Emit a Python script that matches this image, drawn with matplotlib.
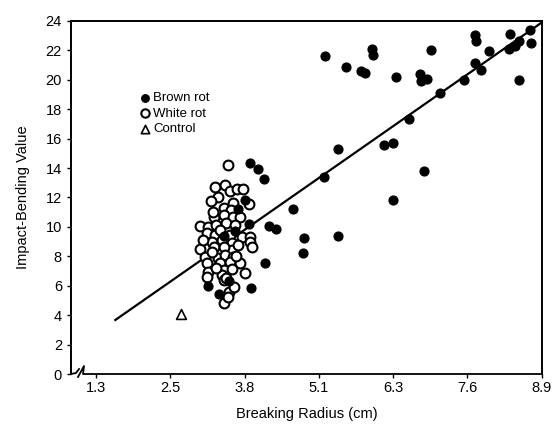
import numpy as np
import matplotlib.pyplot as plt

plt.rcParams['font.family'] = ['Liberation Sans', 'DejaVu Sans']

# brown rot (filled dots): breaking radius (cm), impact-bending value
brown_x = [5.41, 3.90, 4.04, 4.14, 5.17, 3.81, 3.69, 4.64, 3.89, 4.23,
           4.34, 3.65, 3.46, 4.83, 5.41, 4.81, 4.16, 3.55, 3.19, 3.92,
           3.37,
           5.18, 5.54, 5.80, 5.87, 5.99, 6.01, 6.39, 6.81, 6.82, 6.92,
           7.00, 7.15, 7.56, 7.75, 7.76, 7.75, 7.85, 7.99, 8.35, 8.33,
           8.44, 8.50, 8.69, 8.70, 8.50, 6.62, 6.19, 6.35, 6.87, 6.35]
brown_y = [15.28, 14.37, 13.94, 13.29, 13.42, 11.84, 11.20, 11.20, 10.22, 10.09,
           9.84, 9.71, 9.39, 9.25, 9.37, 8.25, 7.57, 6.31, 6.01, 5.87,
           5.44,
           21.65, 20.88, 20.63, 20.46, 22.11, 21.70, 20.18, 20.39, 19.93, 20.05,
           22.02, 19.10, 20.00, 23.08, 22.67, 21.16, 20.66, 21.99, 23.13, 22.11,
           22.27, 22.67, 23.40, 22.52, 20.02, 17.37, 15.60, 15.69, 13.83, 11.84]

# white rot (open circles)
white_x = [3.53, 3.30, 3.48, 3.56, 3.68, 3.78, 3.36, 3.23, 3.61, 3.89,
           3.45, 3.57, 3.28, 3.45, 3.62, 3.73, 3.05, 3.19, 3.33, 3.50,
           3.65, 3.16, 3.30, 3.56, 3.39, 3.25, 3.42, 3.59, 3.76, 3.05,
           3.28, 3.59, 3.45, 3.90, 3.91, 3.93, 3.13, 3.36, 3.48, 3.62,
           3.16, 3.39, 3.56, 3.73, 3.82, 3.19, 3.45, 3.59, 3.16, 3.42,
           3.45, 3.50, 3.55, 3.45, 3.27, 3.10, 3.70, 3.66, 3.25, 3.32,
           3.53, 3.63]
white_y = [14.22, 12.74, 12.84, 12.45, 12.56, 12.58, 12.06, 11.79, 11.65, 11.54,
           11.27, 11.16, 10.66, 10.82, 10.70, 10.66, 10.07, 10.02, 10.13, 10.25,
           10.13, 9.57, 9.46, 9.46, 9.80, 9.00, 9.12, 8.89, 9.34, 8.48,
           8.62, 8.44, 8.66, 9.34, 9.00, 8.66, 7.98, 7.87, 8.09, 7.98,
           7.53, 7.53, 7.64, 7.53, 6.85, 6.96, 7.07, 7.12, 6.62, 6.74,
           6.39, 6.51, 5.60, 4.85, 11.02, 9.12, 8.77, 8.03, 8.30, 7.21,
           5.24, 5.92]

control_x = [2.72]
control_y = [4.1]

# regression line end points
fit_x = [1.60, 8.89]
fit_y = [3.67, 23.9]

xticks = [1.27, 2.54, 3.81, 5.08, 6.35, 7.62, 8.89]
xtick_labels = ['1.3', '2.5', '3.8', '5.1', '6.3', '7.6', '8.9']

fig = plt.figure(figsize=(5.54, 4.30), dpi=100)
ax = fig.add_axes([71 / 554, 56 / 430, 471 / 554, 353 / 430])

ax.plot(fit_x, fit_y, color='black', lw=1.6, zorder=2)
ax.scatter(white_x, white_y, s=50, facecolors='white', edgecolors='black',
           linewidths=1.5, zorder=3, label='White rot')
ax.scatter(brown_x, brown_y, s=40, color='black', zorder=4, label='Brown rot')
ax.scatter(control_x, control_y, s=50, marker='^', facecolors='white',
           edgecolors='black', linewidths=1.2, zorder=4, label='Control')

ax.set_xlim(0.843, 8.894)
ax.set_ylim(0, 24)
ax.set_xticks(xticks)
ax.set_xticklabels(xtick_labels)
ax.set_yticks(np.arange(0, 25, 2))
ax.tick_params(axis='both', direction='out', length=3, width=1, labelsize=10.5)
ax.tick_params(axis='x', pad=2)

for side in ['top', 'right', 'left']:
    ax.spines[side].set_linewidth(1.4)
ax.spines['bottom'].set_visible(False)

# bottom axis with break mark near the origin
def to_ax(px, py):
    return (px - 71) / 471, (374 - py) / 353

pts = [to_ax(71, 374), to_ax(76, 373), to_ax(79, 369)]
ax.plot([p[0] for p in pts], [p[1] for p in pts], color='black', lw=1.3,
        transform=ax.transAxes, clip_on=False)
pts = [to_ax(78, 377), to_ax(84, 366), to_ax(83, 374), to_ax(88, 374), to_ax(542, 374)]
ax.plot([p[0] for p in pts], [p[1] for p in pts], color='black', lw=1.3,
        transform=ax.transAxes, clip_on=False)

h, l = ax.get_legend_handles_labels()
order = [1, 0, 2]
ax.legend([h[i] for i in order], [l[i] for i in order], loc='upper left',
          bbox_to_anchor=(0.13, 0.825), frameon=False, fontsize=9.5,
          handlelength=0.6, handletextpad=0.3, labelspacing=0.25,
          markerscale=0.85, borderpad=0.2)

ax.set_xlabel('Breaking Radius (cm)', fontsize=10.5, labelpad=9)
ax.set_ylabel('Impact-Bending Value', fontsize=10.5, labelpad=11)

fig.savefig('out.png', dpi=100)
